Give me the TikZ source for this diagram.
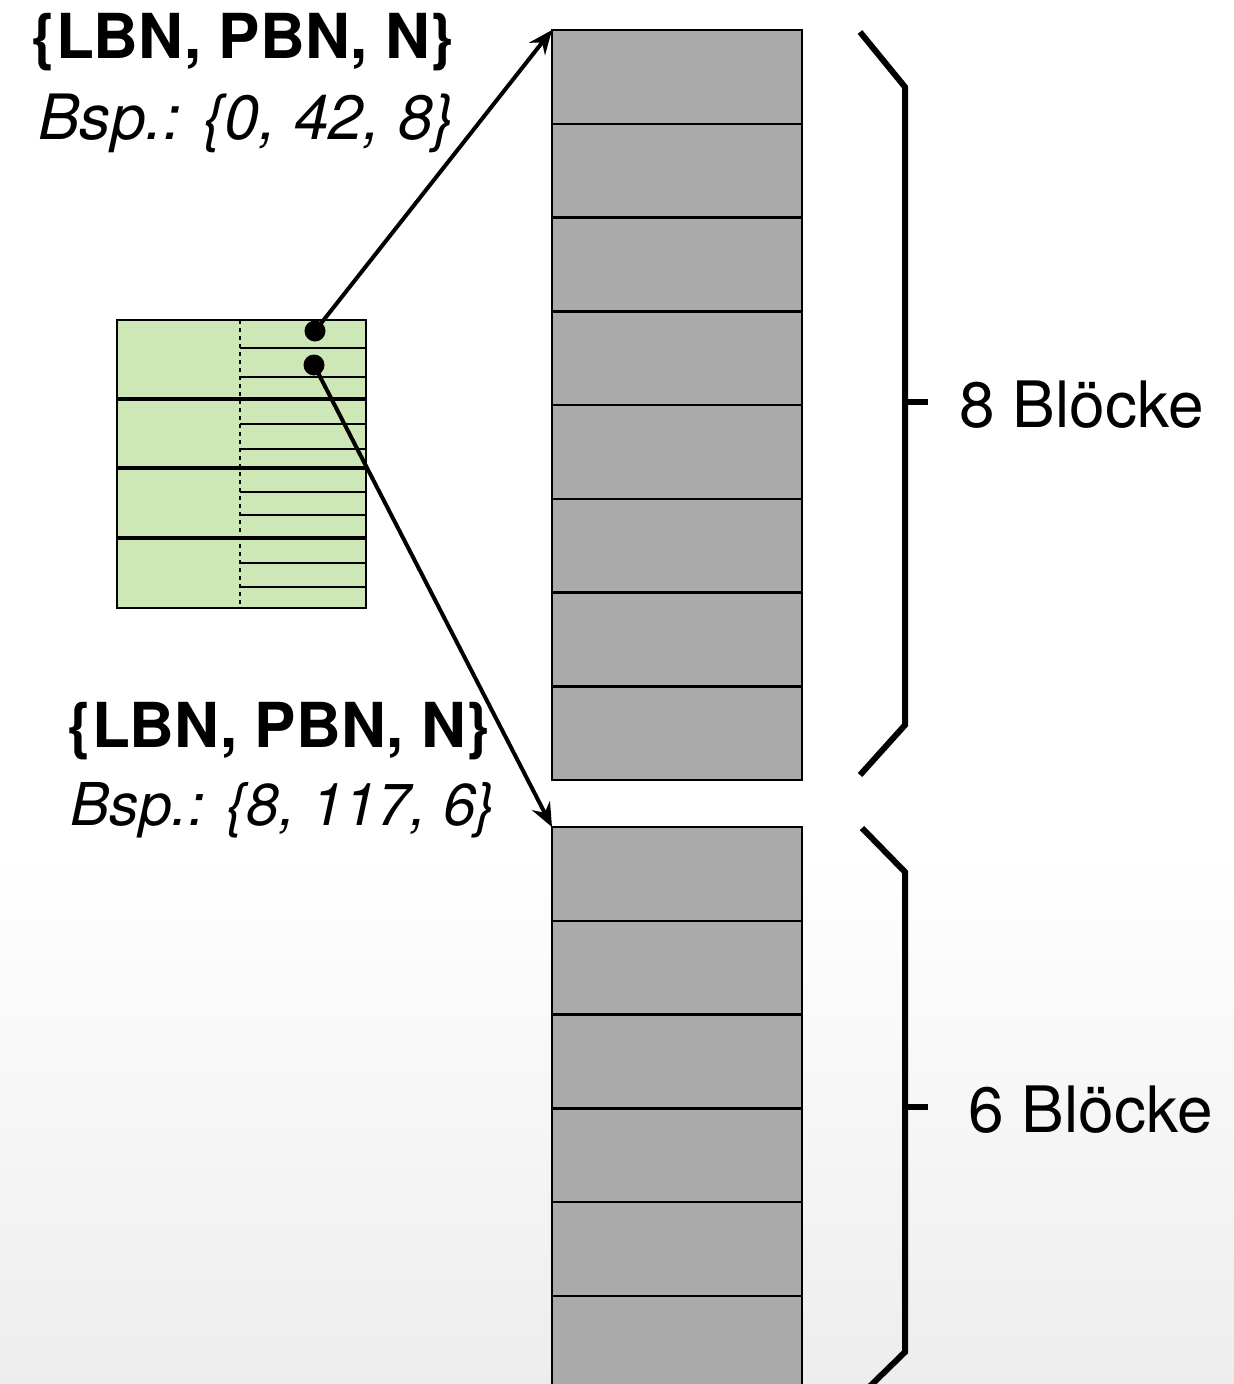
\documentclass[tikz,border=0pt]{standalone}
\usepackage{fontspec}
\setmainfont{TeX Gyre Heros}
\usetikzlibrary{arrows.meta,positioning}
\definecolor{blkgray}{HTML}{AAAAAA}
\definecolor{mapgreen}{HTML}{CDE8B6}
\definecolor{bggray}{HTML}{EDEDED}
\tikzset{
  blk/.style={draw, line width=2.5pt, fill=blkgray, minimum width=250pt,
    minimum height=93.75pt, inner sep=0pt, outer sep=0pt},
  mapbox/.style={draw, line width=2.5pt, fill=mapgreen, minimum width=249pt,
    minimum height=288pt, inner sep=0pt, outer sep=0pt},
  dot/.style={circle, fill=black, minimum size=21pt, inner sep=0pt},
  ptr/.style={line width=4pt, -{Stealth[length=24pt,width=20pt,inset=8pt]}},
  brace/.style={line width=6pt},
  tuple/.style={font=\fontsize{62}{62}\selectfont\bfseries},
  sample/.style={font=\fontsize{62.5}{62}\selectfont\itshape},
  count/.style={font=\fontsize{64}{64}\selectfont, anchor=west}
}
\begin{document}
\begin{tikzpicture}[x=1pt,y=-1pt]
\useasboundingbox (0,0) rectangle (1234,1384);
% background
\fill[white] (0,0) rectangle (1234,850);
\shade[top color=white, bottom color=bggray] (0,850) rectangle (1234,1384);
% block columns
\foreach \i in {1,...,8}
  \node[blk] (top\i) at (677,{30+93.75*(\i-0.5)}) {};
\foreach \i in {1,...,6}
  \node[blk] (bot\i) at (677,{827+93.75*(\i-0.5)}) {};
% mapping table
\node[mapbox] (map) at (241.5,464) {};
\draw[line width=2pt, dash pattern=on 4pt off 4pt] (240,320) -- (240,608);
\foreach \y in {399,468,538}
  \draw[line width=4.5pt] (117,\y) -- (366,\y);
\foreach \y in {348,377,424,449,492,515,563,587}
  \draw[line width=2.5pt] (240,\y) -- (366,\y);
\node[dot] (d1) at (315,331) {};
\node[dot] (d2) at (314,365) {};
% pointers
\draw[ptr] (d1.center) -- (top1.north west);
\draw[ptr] (d2.center) -- (bot1.north west);
% labels
\node[tuple] (t1) at (243,42) {\{LBN, PBN, N\}};
\node[sample] (s1) at (246,123) {Bsp.: \{0, 42, 8\}};
\node[tuple] (t2) at (279,731) {\{LBN, PBN, N\}};
\node[sample, font=\fontsize{59}{59}\selectfont\itshape] (s2) at (283,810) {Bsp.: \{8, 117, 6\}};
% braces
\draw[brace] (860,32) -- (905,87) -- (905,725) -- (860,775);
\draw[brace] (908,402) -- (928,402);
\node[count] (c1) at (956,405) {8 Blöcke};
\draw[brace] (862,828) -- (905,872) -- (905,1352) -- (862,1394);
\draw[brace] (908,1107) -- (928,1107);
\node[count] (c2) at (965,1110) {6 Blöcke};
\end{tikzpicture}
\end{document}
